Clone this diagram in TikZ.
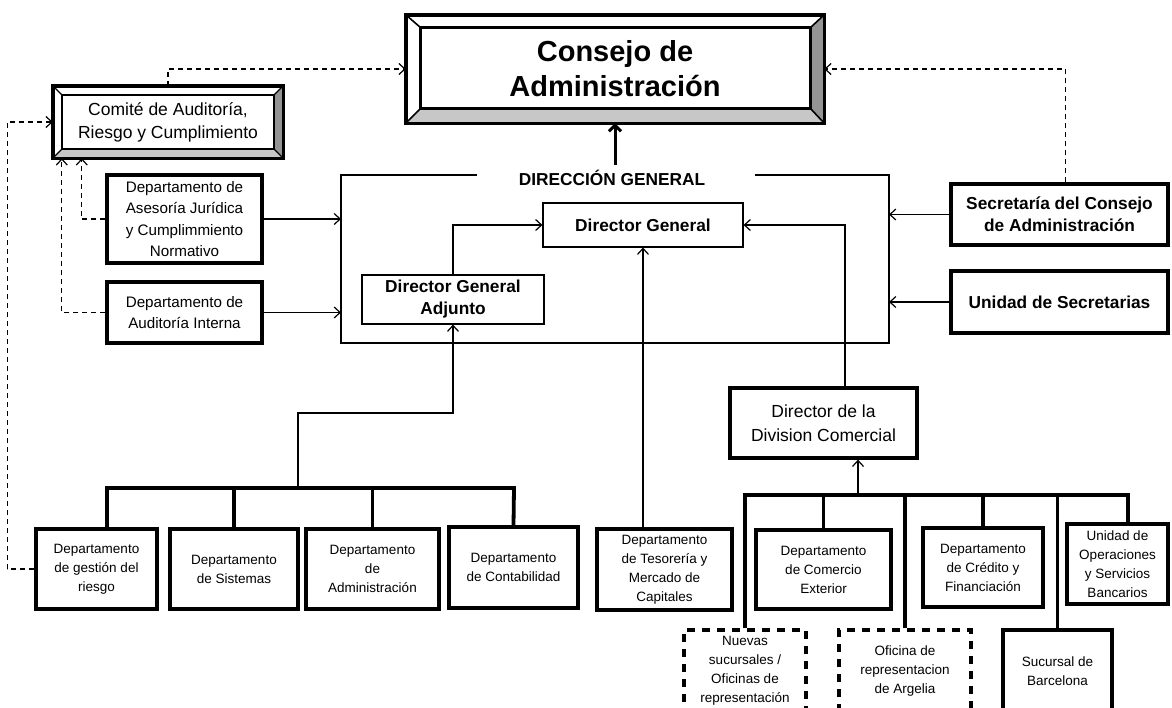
\documentclass[tikz,border=0pt]{standalone}
\usepackage{fontspec}
\setmainfont{Liberation Sans}
\usetikzlibrary{arrows.meta,calc}

\begin{document}
\begin{tikzpicture}[x=1pt,y=-1pt,
  >={Straight Barb[length=6pt,width=11pt]},
  box/.style={draw, line width=3.2pt, align=center, inner sep=0pt, font=\fontsize{13.5}{19}\selectfont},
  sidebox/.style={box, font=\fontsize{15.2}{21.5}\selectfont},
  keybox/.style={box, font=\bfseries\fontsize{17.3}{22}\selectfont},
  dirbox/.style={draw, line width=1.1pt, align=center, inner sep=0pt, font=\bfseries\fontsize{17.3}{22}\selectfont},
  newbox/.style={box, dash pattern=on 8pt off 7pt},
  link/.style={->, line width=1.2pt},
  dashlink/.style={->, line width=1.2pt, dash pattern=on 5pt off 4pt},
  bus/.style={line width=3.8pt}]

\useasboundingbox (0,0) rectangle (1172,707);

% Consejo de Administracion
\node[minimum width=418pt, minimum height=108pt, align=center, font=\bfseries\fontsize{29}{35}\selectfont] (consejo) at (615,69) {Consejo de\\Administración};
\coordinate (cnw) at ($(consejo.north west)+(15,13)$);
\coordinate (cne) at ($(consejo.north east)+(-14,13)$);
\coordinate (cse) at ($(consejo.south east)+(-14,-15)$);
\coordinate (csw) at ($(consejo.south west)+(15,-15)$);
\fill[black!22] (consejo.south west) -- (consejo.south east) -- (cse) -- (csw) -- cycle;
\fill[black!42] (consejo.north east) -- (consejo.south east) -- (cse) -- (cne) -- cycle;
\draw[line width=1.6pt] (consejo.north west) -- (cnw) (consejo.north east) -- (cne) (consejo.south east) -- (cse) (consejo.south west) -- (csw);
\draw[line width=2.8pt] (cnw) rectangle (cse);
\draw[line width=3.4pt] (consejo.north west) rectangle (consejo.south east);

% Comite
\node[minimum width=230pt, minimum height=72pt, align=center, font=\fontsize{17.5}{23}\selectfont] (comite) at (168,122) {Comité de Auditoría,\\Riesgo y Cumplimiento};
\coordinate (knw) at ($(comite.north west)+(9,9)$);
\coordinate (kne) at ($(comite.north east)+(-9,9)$);
\coordinate (kse) at ($(comite.south east)+(-9,-9)$);
\coordinate (ksw) at ($(comite.south west)+(9,-9)$);
\fill[black!22] (comite.south west) -- (comite.south east) -- (kse) -- (ksw) -- cycle;
\fill[black!42] (comite.north east) -- (comite.south east) -- (kse) -- (kne) -- cycle;
\draw[line width=1.4pt] (comite.north west) -- (knw) (comite.north east) -- (kne) (comite.south east) -- (kse) (comite.south west) -- (ksw);
\draw[line width=2.4pt] (knw) rectangle (kse);
\draw[line width=3.4pt] (comite.north west) rectangle (comite.south east);

% Left departments
\node[sidebox, minimum width=155pt, minimum height=88pt] (asesoria) at (184.5,219) {Departamento de\\Asesoría Jurídica\\y Cumplimmiento\\Normativo};
\node[sidebox, minimum width=155pt, minimum height=61pt] (auditoria) at (184.5,312.5) {Departamento de\\Auditoría Interna};

% Direccion General frame
\coordinate (ftl) at (341,175);
\coordinate (fbr) at (889,343);
\draw[line width=1.1pt] (477,175) -- (ftl) |- (fbr) |- (755,175);
\node[font=\bfseries\fontsize{17.3}{20}\selectfont, inner sep=5pt] (dirgen) at (612,178) {DIRECCIÓN GENERAL};
\node[dirbox, minimum width=200pt, minimum height=44pt] (dirgral) at (643,225) {Director General};
\node[dirbox, minimum width=182pt, minimum height=49pt] (adjunto) at (453,299.5) {Director General\\Adjunto};

% Right side
\node[keybox, minimum width=217pt, minimum height=61pt] (secretaria) at (1059.5,214.5) {Secretaría del Consejo\\de Administración};
\node[keybox, minimum width=217pt, minimum height=62pt] (unidadsec) at (1059.5,302) {Unidad de Secretarias};
\node[box, font=\fontsize{17.5}{24}\selectfont, minimum width=187pt, minimum height=70pt] (division) at (823.5,423) {Director de la\\Division Comercial};

% Bottom row
\node[box, minimum width=121pt, minimum height=80pt] (gestion) at (96.5,569) {Departamento\\de gestión del\\riesgo};
\node[box, minimum width=128pt, minimum height=80pt] (sistemas) at (234,569) {Departamento\\de Sistemas};
\node[box, minimum width=133pt, minimum height=80pt] (admin) at (372.5,569) {Departamento\\de\\Administración};
\node[box, minimum width=129pt, minimum height=81pt] (contab) at (513.5,567.5) {Departamento\\de Contabilidad};
\node[box, minimum width=135pt, minimum height=81pt] (tesoreria) at (664.5,569.5) {Departamento\\de Tesorería y\\Mercado de\\Capitales};
\node[box, minimum width=135pt, minimum height=79pt] (comercio) at (823.5,569.5) {Departamento\\de Comercio\\Exterior};
\node[box, minimum width=120pt, minimum height=79pt] (credito) at (983,567.5) {Departamento\\de Crédito y\\Financiación};
\node[box, minimum width=101pt, minimum height=80pt] (unidadops) at (1117.5,564) {Unidad de\\Operaciones\\y Servicios\\Bancarios};
\node[newbox, minimum width=122pt, minimum height=82pt] (nuevas) at (745,671) {Nuevas\\sucursales /\\Oficinas de\\representación};
\node[newbox, minimum width=132pt, minimum height=82pt] (argelia) at (905,671) {Oficina de\\representacion\\de Argelia};
\node[box, minimum width=109pt, minimum height=82pt] (barcelona) at (1057.5,671) {Sucursal de\\Barcelona};

% Buses
\coordinate (lbusl) at (107,488);
\coordinate (lbusr) at (514,488);
\draw[bus] (lbusl |- gestion.north) -- (lbusl) -- (lbusr) -- (contab.north);
\draw[bus] (sistemas.north) -- (sistemas.north |- lbusl);
\draw[bus] (admin.north) -- (admin.north |- lbusl);
\coordinate (rbusl) at (745,495);
\coordinate (rbusr) at (1128,495);
\draw[bus] (nuevas.north) -- (rbusl) -- (rbusr) -- (rbusr |- unidadops.north);
\draw[bus] (comercio.north) -- (comercio.north |- rbusl);
\draw[bus] (argelia.north) -- (argelia.north |- rbusl);
\draw[bus] (credito.north) -- (credito.north |- rbusl);
\draw[bus] (barcelona.north) -- (barcelona.north |- rbusl);

% Reporting lines
\draw[->, line width=3pt, >={Straight Barb[length=6pt,width=12pt]}] (consejo.south |- dirgen.north) -- (consejo.south);
\draw[link] (asesoria.east) -- (asesoria.east -| ftl);
\draw[link] (auditoria.east) -- (auditoria.east -| ftl);
\draw[link] (secretaria.west) -- (secretaria.west -| fbr);
\draw[link] (unidadsec.west) -- (unidadsec.west -| fbr);
\draw[link] (adjunto.north) |- (dirgral.west);
\draw[link] (tesoreria.north -| dirgral.south) -- (dirgral.south);
\coordinate (divtop) at ($(division.north)+(21.5,0)$);
\draw[link] (divtop) |- (dirgral.east);
\coordinate (rroot) at (858,495);
\draw[link] (rroot) -- (rroot |- division.south);
\coordinate (lroot) at (298,488);
\coordinate (ljoin) at (298,413);
\draw[link] (lroot) -- (ljoin) -| (adjunto.south);

% Dashed lines to the committees
\draw[dashlink] (comite.north) |- (consejo.west);
\draw[dashlink] ($(secretaria.north)+(6,0)$) |- (consejo.east);
\draw[dashlink] (gestion.west) -- ++(-27,0) |- (comite.west);
\draw[dashlink] (asesoria.west) -| ($(comite.south west)+(29,0)$);
\draw[dashlink] (auditoria.west) -| ($(comite.south west)+(9,0)$);
\end{tikzpicture}
\end{document}
